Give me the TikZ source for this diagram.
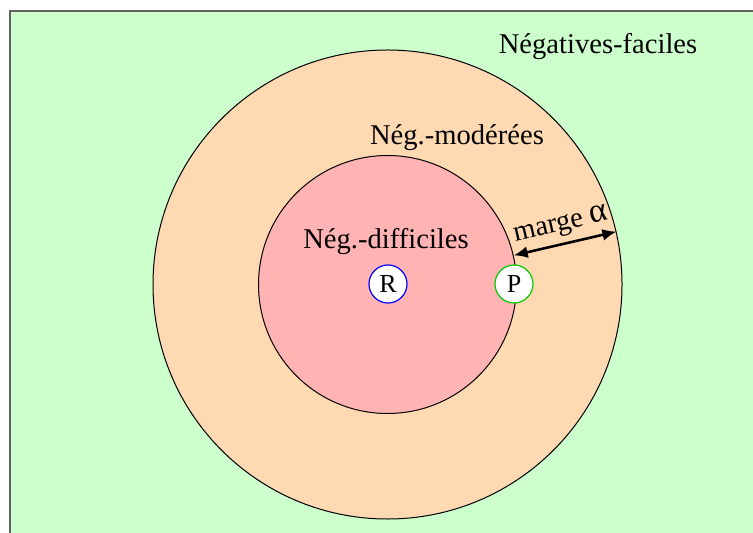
\documentclass[tikz,border=0pt]{standalone}
\usepackage{fontspec}
\setmainfont{Liberation Serif}
\usetikzlibrary{arrows.meta}
\definecolor{bggreen}{RGB}{204,255,204}
\definecolor{peach}{RGB}{255,217,178}
\definecolor{rosy}{RGB}{255,179,179}
\definecolor{frame}{RGB}{96,96,96}
\tikzset{
  zone/.style={circle, draw=black, line width=0.5pt, inner sep=0pt},
  lbl/.style={font=\fontsize{14.3}{17}\selectfont, inner sep=1pt},
  pt/.style={circle, fill=white, line width=0.6pt, minimum size=19pt, inner sep=0pt, font=\fontsize{13}{15}\selectfont},
  marg/.style={{Latex[length=7pt,width=6pt]}-{Latex[length=7pt,width=6pt]}, line width=1.3pt}
}
\begin{document}
\begin{tikzpicture}[x=0.5pt,y=-0.5pt]
\useasboundingbox (0,0) rectangle (753,533);
\clip (0,0) rectangle (753,533);
\draw[fill=bggreen, draw=frame, line width=1pt] (9.5,11) rectangle (780,560);
\node[zone, fill=peach, minimum size=234.5pt] (outer) at (387.5,284.5) {};
\node[zone, fill=rosy, minimum size=129pt] (inner) at (387.5,284.5) {};
\node[lbl] (easy) at (598,47) {Négatives-faciles};
\node[lbl] (mod) at (457,138) {Nég.-modérées};
\node[lbl] (hard) at (386,242) {Nég.-difficiles};
\node[pt, draw=blue] (R) at (388,284) {R};
\node[pt, draw=green!80!black] (P) at (514,284) {P};
\draw[marg] (inner.13) -- node[lbl, sloped, above=2pt] {marge {\fontsize{17}{17}\selectfont α}} (outer.13);
\end{tikzpicture}
\end{document}
